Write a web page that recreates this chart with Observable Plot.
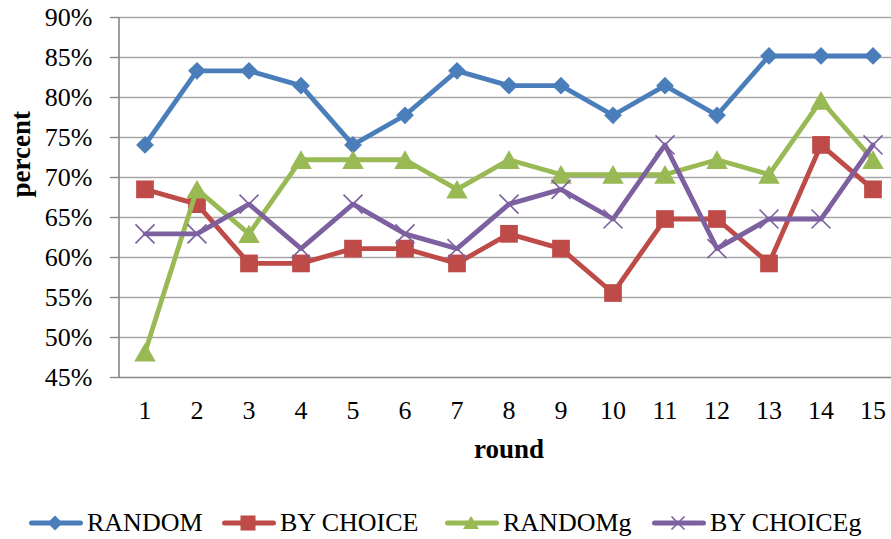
<!DOCTYPE html>
<html><head><meta charset="utf-8">
<script src="https://cdn.jsdelivr.net/npm/d3@7"></script>
<script src="https://cdn.jsdelivr.net/npm/@observablehq/plot@0.6"></script>
<style>
body{margin:0;background:#fff;font-family:"Liberation Serif",serif;}
#chart{width:891px;height:490px;overflow:hidden;}
#legend{position:relative;height:49px;width:891px;overflow:hidden;}
.item{position:absolute;top:18px;display:flex;align-items:center;font-size:26px;color:#000;line-height:30px;white-space:nowrap;}
.item svg{display:block;}
</style></head><body>
<div id="chart"></div><div id="legend"></div>
<script>
const rounds = [1,2,3,4,5,6,7,8,9,10,11,12,13,14,15];
const random    = [74.07, 83.33, 83.33, 81.48, 74.07, 77.78, 83.33, 81.48, 81.48, 77.78, 81.48, 77.78, 85.19, 85.19, 85.19];
const byChoice  = [68.52, 66.67, 59.26, 59.26, 61.11, 61.11, 59.26, 62.96, 61.11, 55.56, 64.81, 64.81, 59.26, 74.07, 68.52];
const randomG   = [48.15, 68.52, 62.96, 72.22, 72.22, 72.22, 68.52, 72.22, 70.37, 70.37, 70.37, 72.22, 70.37, 79.63, 72.22];
const byChoiceG = [62.96, 62.96, 66.67, 61.11, 66.67, 62.96, 61.11, 66.67, 68.52, 64.81, 74.07, 61.11, 64.81, 64.81, 74.07];
const seriesNames = ["RANDOM", "BY CHOICE", "RANDOMg", "BY CHOICEg"];
const seriesColors = ["#4a7ebb", "#be4b48", "#98b954", "#7d60a0"];
const yTicks = [45, 50, 55, 60, 65, 70, 75, 80, 85, 90];
const xTitle = "round";
const yTitle = "percent";

const seriesValues = [random, byChoice, randomG, byChoiceG];
const rowsBySeries = seriesValues.map((vals, k) =>
  rounds.map((r, i) => ({round: r, value: vals[i], series: seriesNames[k]})));

const markerStyles = [
  {symbol: "diamond2", r: 8, fill: seriesColors[0], stroke: "none", dy: 0},
  {symbol: "square", r: 10, fill: seriesColors[1], stroke: "none", dy: 0},
  {symbol: "triangle", r: 8, fill: seriesColors[2], stroke: "none", dy: 3},
  {symbol: "times", r: 8.7, fill: "none", stroke: seriesColors[3], strokeWidth: 1.6, dy: 0}
];

const marks = [
  Plot.ruleY(yTicks.slice(1), {y: d => d, stroke: "#a6a6a6", strokeWidth: 1.4}),
  Plot.ruleY([yTicks[0]], {y: d => d, stroke: "#868686", strokeWidth: 1.6}),
  Plot.ruleX([rounds[0] - 0.5], {x: d => d, y1: yTicks[0], y2: yTicks[yTicks.length - 1], stroke: "#868686", strokeWidth: 1.6}),
  Plot.axisY({ticks: yTicks, tickSize: 8, tickPadding: 18, tickFormat: d => d + "%", stroke: "#868686", strokeWidth: 1.4, fill: "#000", fontSize: 26, label: null}),
  Plot.axisX({ticks: rounds, tickSize: 0, tickPadding: 23, tickFormat: d => String(d), fill: "#000", fontSize: 26, label: null}),
  Plot.text([yTitle], {text: d => d, frameAnchor: "left", dx: -97, rotate: -90, lineAnchor: "middle", fontWeight: "bold", fontSize: 27, fill: "#000"}),
  Plot.text([xTitle], {text: d => d, frameAnchor: "bottom", lineAnchor: "middle", dy: 72, dx: 4, fontWeight: "bold", fontSize: 27, fill: "#000"})
];
rowsBySeries.forEach((rows, k) => {
  marks.push(Plot.line(rows, {x: "round", y: "value", stroke: seriesColors[k], strokeWidth: 4.8, strokeLinejoin: "round", strokeLinecap: "round"}));
  const m = markerStyles[k];
  marks.push(Plot.dot(rows, {x: "round", y: "value", symbol: m.symbol, r: m.r, fill: m.fill, stroke: m.stroke, strokeWidth: m.strokeWidth || 1, dy: m.dy}));
});

const chart = Plot.plot({
  width: 891,
  height: 490,
  marginLeft: 118,
  marginRight: 0,
  marginTop: 17,
  marginBottom: 113,
  style: {fontFamily: "'Liberation Serif', serif", fontSize: "26px", background: "white"},
  x: {type: "linear", domain: [1, 15], range: [144.5, 872.5]},
  y: {type: "linear", domain: [45, 90], range: [377, 17]},
  marks
});
document.getElementById("chart").appendChild(chart);

// Legend
const legendLeft = [29, 222, 445, 652];
const legendMarkers = [
  `<path d="M28,7.5 L35.5,15 L28,22.5 L20.5,15 Z" fill="${seriesColors[0]}"/>`,
  `<rect x="20.5" y="7.5" width="15" height="15" fill="${seriesColors[1]}"/>`,
  `<path d="M28,8 L36,21 L20,21 Z" fill="${seriesColors[2]}"/>`,
  `<path d="M21.5,8.5 L34.5,21.5 M21.5,21.5 L34.5,8.5" stroke="${seriesColors[3]}" stroke-width="1.6" fill="none"/>`
];
const legend = document.getElementById("legend");
seriesNames.forEach((name, k) => {
  const item = document.createElement("div");
  item.className = "item";
  item.style.left = (legendLeft[k] - 2) + "px";
  item.innerHTML = `<svg width="60" height="30"><line x1="4.5" y1="15" x2="53.5" y2="15" stroke="${seriesColors[k]}" stroke-width="5" stroke-linecap="round"/>${legendMarkers[k]}</svg><span>${name}</span>`;
  legend.appendChild(item);
});
</script>
</body></html>
